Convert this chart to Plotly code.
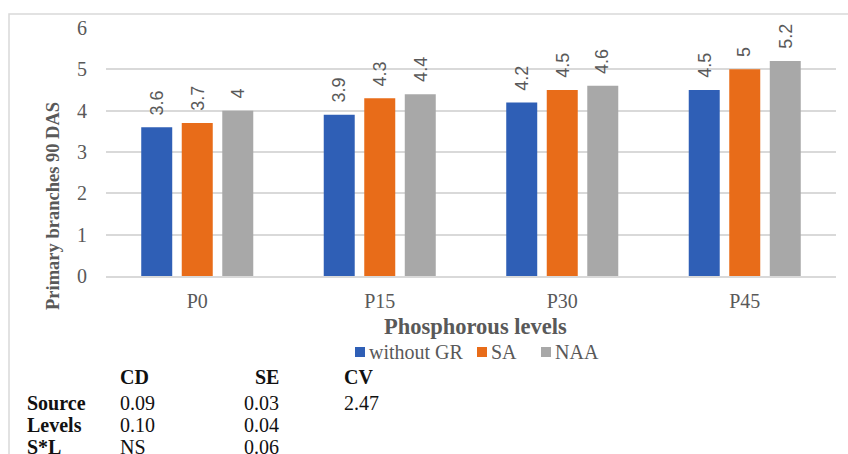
import plotly.graph_objects as go

categories = ["P0", "P15", "P30", "P45"]
series_names = ["without GR", "SA", "NAA"]
without_gr = [3.6, 3.9, 4.2, 4.5]
sa = [3.7, 4.3, 4.5, 5.0]
naa = [4.0, 4.4, 4.6, 5.2]
label_text = {
    "without GR": ["3.6", "3.9", "4.2", "4.5"],
    "SA": ["3.7", "4.3", "4.5", "5"],
    "NAA": ["4", "4.4", "4.6", "5.2"],
}
y_ticks = [0, 1, 2, 3, 4, 5, 6]
colors = ["#2F5FB6", "#E86C19", "#A8A8A8"]

table_header = ["CD", "SE", "CV"]
table_rows = ["Source", "Levels", "S*L"]
table_cd = ["0.09", "0.10", "NS"]
table_se = ["0.03", "0.04", "0.06"]
table_cv = ["2.47", "", ""]

W, H = 848, 454
L, R, T, B = 106, 12, 28, 178
PW = W - L - R
PH = H - T - B


def px(xp):
    return (xp - L) / PW


def py(yp):
    return (H - B - yp) / PH


values = [without_gr, sa, naa]
fig = go.Figure()
for name, vals, col in zip(series_names, values, colors):
    fig.add_trace(go.Bar(x=categories, y=vals, name=name, showlegend=False,
                         marker=dict(color=col, line=dict(width=0))))

serif = "Liberation Serif"
gray = "#595959"
annotations = []
shapes = []
slot = 40.5
for i, (name, vals) in enumerate(zip(series_names, values)):
    for c, v, t in zip(categories, vals, label_text[name]):
        annotations.append(dict(
            x=c, y=v, xref="x", yref="y", text=t, showarrow=False,
            textangle=-90, xanchor="center", yanchor="bottom",
            xshift=(i - 1) * slot, yshift=10,
            font=dict(family="Liberation Sans", size=18, color=gray)))

annotations.append(dict(x=px(475), y=py(326), xref="paper", yref="paper",
                        text="<b>Phosphorous levels</b>", showarrow=False,
                        xanchor="center", yanchor="middle",
                        font=dict(family=serif, size=22.5, color=gray)))
annotations.append(dict(x=px(53), y=py(206), xref="paper", yref="paper",
                        text="<b>Primary branches 90 DAS</b>", showarrow=False,
                        textangle=-90, xanchor="center", yanchor="middle",
                        font=dict(family=serif, size=18.5, color=gray)))

# legend (manual, to match the reference spacing)
leg_sq_x = [355, 477, 541]
leg_y = 352
for name, col, sx in zip(series_names, colors, leg_sq_x):
    shapes.append(dict(type="rect", xref="paper", yref="paper",
                       x0=px(sx), x1=px(sx + 10), y0=py(leg_y + 5), y1=py(leg_y - 5),
                       fillcolor=col, line=dict(width=0)))
    annotations.append(dict(x=px(sx + 12), y=py(leg_y), xref="paper", yref="paper",
                            text=name, showarrow=False, xanchor="left", yanchor="middle",
                            font=dict(family=serif, size=20, color=gray)))

tfont = dict(family=serif, size=20, color="#111111")
row_y = [403, 425, 447]
head_y = 377
annotations.append(dict(x=px(118), y=py(head_y), xref="paper", yref="paper", text="<b>" + table_header[0] + "</b>",
                        showarrow=False, xanchor="left", yanchor="middle", font=tfont))
annotations.append(dict(x=px(281), y=py(head_y), xref="paper", yref="paper", text="<b>" + table_header[1] + "</b>",
                        showarrow=False, xanchor="right", yanchor="middle", font=tfont))
annotations.append(dict(x=px(342), y=py(head_y), xref="paper", yref="paper", text="<b>" + table_header[2] + "</b>",
                        showarrow=False, xanchor="left", yanchor="middle", font=tfont))
for ry, rn, cd, se, cv in zip(row_y, table_rows, table_cd, table_se, table_cv):
    annotations.append(dict(x=px(25), y=py(ry), xref="paper", yref="paper", text="<b>" + rn + "</b>",
                            showarrow=False, xanchor="left", yanchor="middle", font=tfont))
    annotations.append(dict(x=px(118), y=py(ry), xref="paper", yref="paper", text=cd,
                            showarrow=False, xanchor="left", yanchor="middle", font=tfont))
    annotations.append(dict(x=px(281), y=py(ry), xref="paper", yref="paper", text=se,
                            showarrow=False, xanchor="right", yanchor="middle", font=tfont))
    if cv:
        annotations.append(dict(x=px(342), y=py(ry), xref="paper", yref="paper", text=cv,
                                showarrow=False, xanchor="left", yanchor="middle", font=tfont))

shapes.append(dict(type="rect", xref="paper", yref="paper",
                   x0=px(9), x1=px(852), y0=py(460), y1=py(14),
                   line=dict(color="#D9D9D9", width=1.5), layer="below"))

fig.update_layout(
    width=W, height=H,
    margin=dict(l=L, r=R, t=T, b=B),
    paper_bgcolor="white", plot_bgcolor="white",
    barmode="group", bargap=0.334, bargroupgap=0.235,
    showlegend=False,
    annotations=annotations,
    shapes=shapes,
    xaxis=dict(showgrid=False, showline=True, linecolor="#D9D9D9", linewidth=1.5,
               ticks="outside", ticklen=6, tickcolor="rgba(0,0,0,0)",
               tickfont=dict(family=serif, size=20, color=gray), zeroline=False),
    yaxis=dict(range=[0, 6], tickvals=y_ticks, showgrid=True, gridcolor="#D9D9D9", gridwidth=1.5,
               showline=False, zeroline=False,
               ticks="outside", ticklen=14, tickcolor="rgba(0,0,0,0)",
               tickfont=dict(family=serif, size=20, color=gray)),
)

fig.write_html("out.html")
